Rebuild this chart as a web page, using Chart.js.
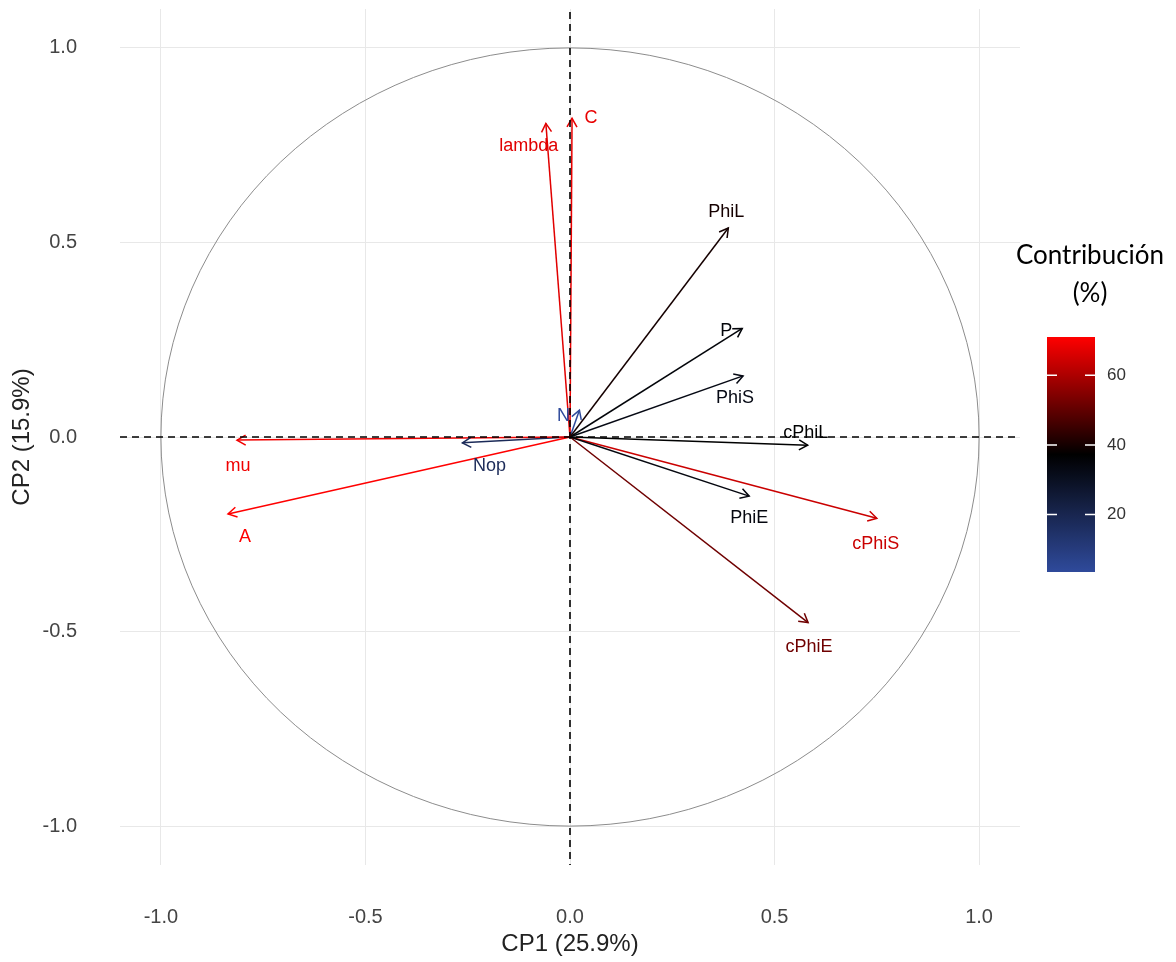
<!DOCTYPE html>
<html><head><meta charset="utf-8">
<script src="https://cdn.jsdelivr.net/npm/chart.js@4.4.0/dist/chart.umd.min.js"></script>
<style>html,body{margin:0;padding:0;background:#fff;}canvas{display:block;}</style>
</head><body>
<canvas id="c" width="1176" height="962"></canvas>
<script>
// ---- data ----
const variables = ['C','lambda','PhiL','P','PhiS','cPhiL','PhiE','cPhiS','cPhiE','mu','A','Nop','N'];
const cp1 = [0.005,-0.059,0.387,0.421,0.423,0.581,0.438,0.750,0.582,-0.814,-0.836,-0.263,0.023];
const cp2 = [0.819,0.806,0.537,0.279,0.157,-0.021,-0.152,-0.209,-0.477,-0.008,-0.198,-0.015,0.069];
const contrib = [68,67,40,35,33,37,34,64,52,69,71,18,3.5];
const xTicks = [-1,-0.5,0,0.5,1];
const yTicks = [-1,-0.5,0,0.5,1];
const colorbarTicks = [20,40,60];
const xTitle = 'CP1 (25.9%)';
const yTitle = 'CP2 (15.9%)';
const legendTitle = ['Contribución','(%)'];

// ---- style: label offsets in px from arrow tip ----
const labelOffsets = {
  C:[19,0], lambda:[-17,23], PhiL:[-2,-16], P:[-16,3], PhiS:[-8,22], cPhiL:[-2,-12],
  PhiE:[0,22], cPhiS:[-1,26], cPhiE:[1,24], mu:[1,26], A:[17,23], Nop:[27,23], N:[-16,6]
};

const cMin = Math.min(...contrib), cMax = Math.max(...contrib);
const gradStops = [[0x2f,0x4a,0x9b],[0,0,0],[255,0,0]];
function colorAt(t){
  t = Math.max(0, Math.min(1, t));
  const seg = t < 0.5 ? 0 : 1;
  const u = t < 0.5 ? t*2 : (t-0.5)*2;
  const a = gradStops[seg], b = gradStops[seg+1];
  const c = a.map((v,i)=>Math.round(v + (b[i]-v)*u));
  return `rgb(${c[0]},${c[1]},${c[2]})`;
}
function colorFor(v){ return colorAt((v-cMin)/(cMax-cMin)); }

const datasets = variables.map((name,i)=>({
  label: name,
  data: [{x:0,y:0},{x:cp1[i],y:cp2[i]}],
  showLine: true,
  borderColor: colorFor(contrib[i]),
  backgroundColor: colorFor(contrib[i]),
  borderWidth: 1.5,
  pointRadius: 0,
  pointHoverRadius: 0,
  fill: false
}));

const pcaPlugin = {
  id: 'pca',
  beforeDatasetsDraw(chart){
    const {ctx, scales:{x, y}} = chart;
    const cx = x.getPixelForValue(0), cy = y.getPixelForValue(0);
    const rx = x.getPixelForValue(1) - cx, ry = cy - y.getPixelForValue(1);
    ctx.save();
    ctx.strokeStyle = '#8c8c8c';
    ctx.lineWidth = 1;
    ctx.beginPath();
    ctx.ellipse(cx, cy, rx, ry, 0, 0, Math.PI*2);
    ctx.stroke();
    ctx.restore();
  },
  afterDatasetsDraw(chart){
    const {ctx, chartArea, scales:{x, y}} = chart;
    ctx.save();
    chart.data.datasets.forEach((ds, i)=>{
      const meta = chart.getDatasetMeta(i);
      const p0 = meta.data[0], p1 = meta.data[1];
      const ang = Math.atan2(p1.y - p0.y, p1.x - p0.x);
      const L = 10, a = Math.PI/6;
      ctx.strokeStyle = ds.borderColor;
      ctx.lineWidth = 1.5;
      ctx.beginPath();
      ctx.moveTo(p1.x - L*Math.cos(ang - a), p1.y - L*Math.sin(ang - a));
      ctx.lineTo(p1.x, p1.y);
      ctx.lineTo(p1.x - L*Math.cos(ang + a), p1.y - L*Math.sin(ang + a));
      ctx.stroke();
    });
    const zx = x.getPixelForValue(0), zy = y.getPixelForValue(0);
    ctx.strokeStyle = '#000';
    ctx.lineWidth = 1.6;
    ctx.setLineDash([7,5]);
    ctx.beginPath();
    ctx.moveTo(chartArea.left, zy); ctx.lineTo(chartArea.right, zy);
    ctx.moveTo(zx, chartArea.top + 3); ctx.lineTo(zx, chartArea.bottom);
    ctx.stroke();
    ctx.setLineDash([]);
    ctx.font = '18px "Liberation Sans", Arial, sans-serif';
    ctx.textAlign = 'center';
    ctx.textBaseline = 'middle';
    chart.data.datasets.forEach((ds, i)=>{
      const meta = chart.getDatasetMeta(i);
      const p1 = meta.data[1];
      const off = labelOffsets[ds.label] || [0,0];
      ctx.fillStyle = ds.borderColor;
      ctx.fillText(ds.label, p1.x + off[0], p1.y + off[1]);
    });
    ctx.restore();
  },
  afterDraw(chart){
    const ctx = chart.ctx;
    ctx.save();
    ctx.fillStyle = '#000';
    ctx.font = '26px Lato, "Noto Sans", sans-serif';
    ctx.textAlign = 'center';
    ctx.textBaseline = 'middle';
    ctx.fillText(legendTitle[0], 1090, 256);
    ctx.fillText(legendTitle[1], 1090, 294);
    const bx = 1047, bw = 48, top = 337, bottom = 572;
    const g = ctx.createLinearGradient(0, bottom, 0, top);
    for (let k = 0; k <= 20; k++) g.addColorStop(k/20, colorAt(k/20));
    ctx.fillStyle = g;
    ctx.fillRect(bx, top, bw, bottom - top);
    ctx.font = '17px "Liberation Sans", Arial, sans-serif';
    ctx.textAlign = 'left';
    colorbarTicks.forEach(v=>{
      const yy = bottom - (v - cMin)/(cMax - cMin)*(bottom - top);
      ctx.strokeStyle = '#fff';
      ctx.lineWidth = 1.5;
      ctx.beginPath();
      ctx.moveTo(bx, yy); ctx.lineTo(bx + 10, yy);
      ctx.moveTo(bx + bw - 10, yy); ctx.lineTo(bx + bw, yy);
      ctx.stroke();
      ctx.fillStyle = '#333';
      ctx.fillText(String(v), bx + bw + 12, yy);
    });
    ctx.restore();
  }
};

new Chart(document.getElementById('c'), {
  type: 'scatter',
  data: { datasets },
  options: {
    responsive: false,
    animation: false,
    events: [],
    layout: { padding: { left: 0, right: 156, top: 9, bottom: 0 } },
    plugins: { legend: { display: false }, tooltip: { enabled: false } },
    scales: {
      x: {
        type: 'linear', min: -1.1, max: 1.1,
        afterBuildTicks: s => { s.ticks = xTicks.map(v => ({ value: v })); },
        afterFit: s => { s.height = 97; s.paddingLeft = 0; s.paddingRight = 0; },
        grid: { color: '#e8e8e8', lineWidth: 1, drawTicks: false },
        border: { display: false },
        ticks: { color: '#444', padding: 40, font: { size: 20, family: '"Liberation Sans", Arial, sans-serif' },
                 callback: v => v.toFixed(1) },
        title: { display: true, text: xTitle, color: '#222', padding: { top: 0, bottom: 3 },
                 font: { size: 24, family: '"Liberation Sans", Arial, sans-serif' } }
      },
      y: {
        type: 'linear', min: -1.1, max: 1.1,
        afterBuildTicks: s => { s.ticks = yTicks.map(v => ({ value: v })); },
        afterFit: s => { s.width = 120; s.paddingTop = 0; s.paddingBottom = 0; },
        grid: { color: '#e8e8e8', lineWidth: 1, drawTicks: false },
        border: { display: false },
        ticks: { color: '#444', padding: 43, font: { size: 20, family: '"Liberation Sans", Arial, sans-serif' },
                 callback: v => v.toFixed(1) },
        title: { display: true, text: yTitle, color: '#222', padding: { top: 8, bottom: 0 },
                 font: { size: 24, family: '"Liberation Sans", Arial, sans-serif' } }
      }
    }
  },
  plugins: [pcaPlugin]
});
</script>
</body></html>
